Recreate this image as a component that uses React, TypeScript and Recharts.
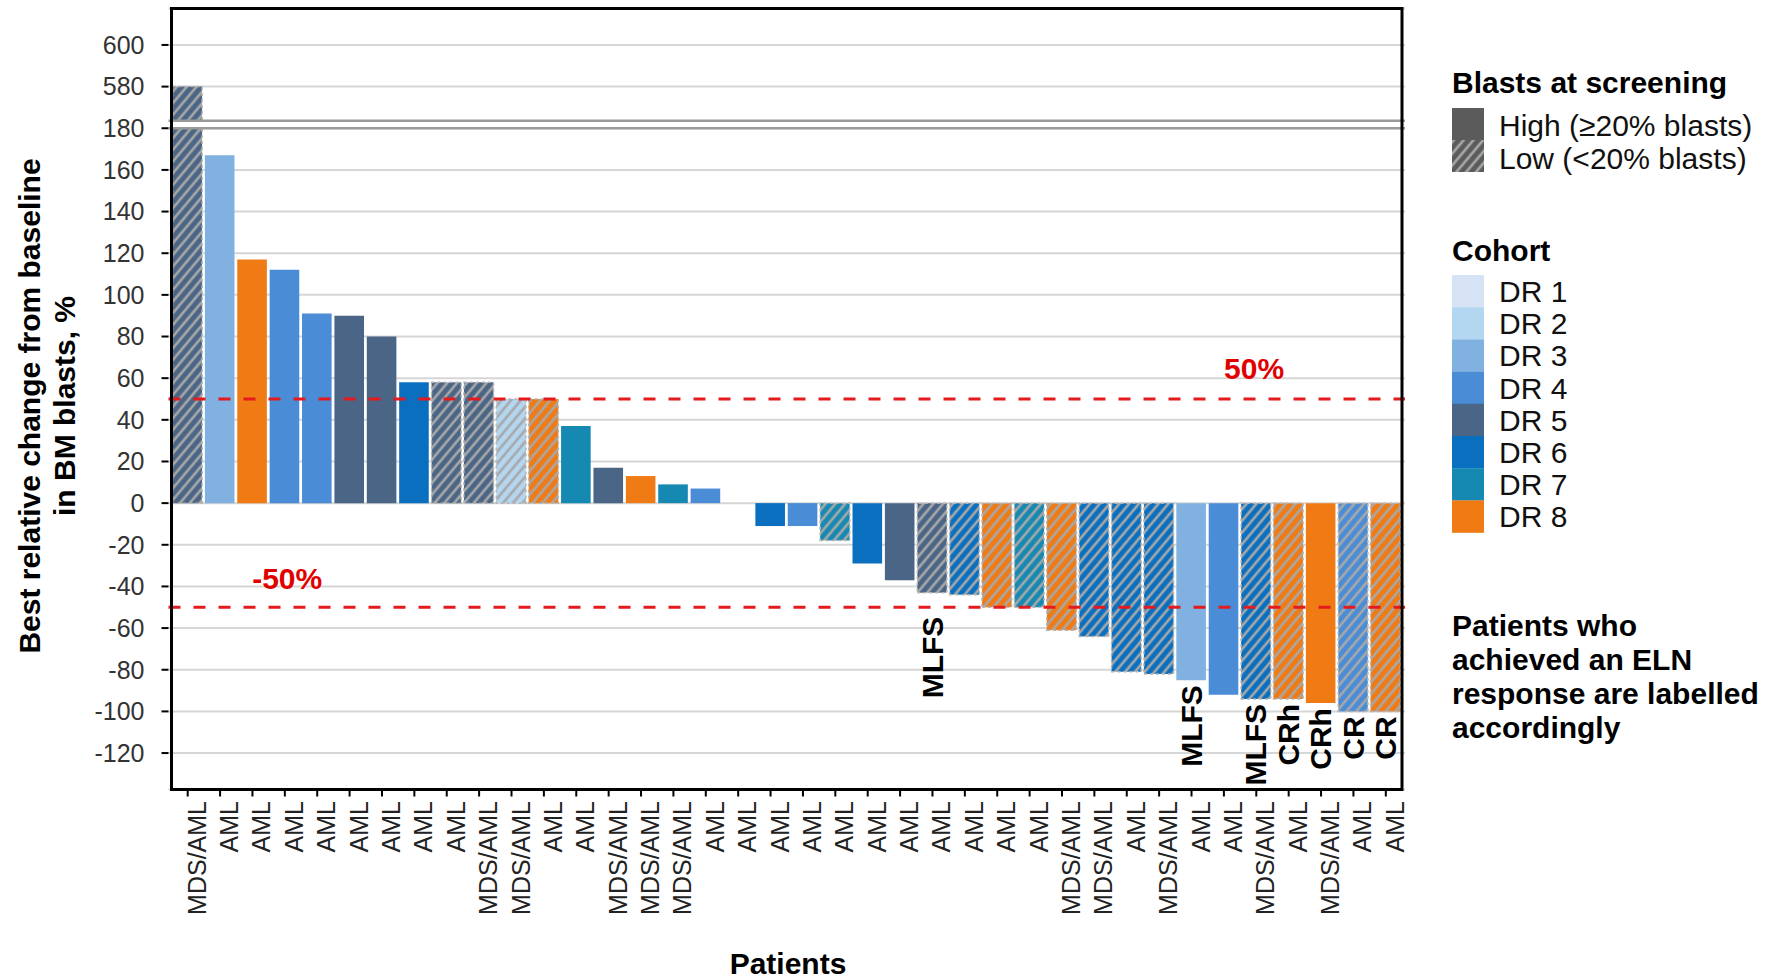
import React from 'react';
import { BarChart, Bar, XAxis, YAxis, CartesianGrid, ReferenceLine, ReferenceArea, Cell, LabelList } from 'recharts';

// one entry per patient, sorted by best change
const diagnosis = [
  'MDS/AML', 'AML', 'AML', 'AML', 'AML', 'AML', 'AML', 'AML', 'AML', 'MDS/AML',
  'MDS/AML', 'AML', 'AML', 'MDS/AML', 'MDS/AML', 'MDS/AML', 'AML', 'AML', 'AML', 'AML',
  'AML', 'AML', 'AML', 'AML', 'AML', 'AML', 'AML', 'MDS/AML', 'MDS/AML', 'AML',
  'MDS/AML', 'AML', 'AML', 'MDS/AML', 'AML', 'MDS/AML', 'AML', 'AML',
];
const bestChange = [
  580, 167, 117, 112, 91, 90, 80, 58, 58, 58,
  50, 50, 37, 17, 13, 9, 7, 0, -11, -11,
  -18, -29, -37, -43, -44, -50, -50, -61, -64, -81,
  -82, -85, -92, -94, -94, -96, -100, -100,
];
const cohort = [
  5, 3, 8, 4, 4, 5, 5, 6, 5, 5,
  2, 8, 7, 5, 8, 7, 4, 6, 6, 4,
  7, 6, 5, 5, 6, 8, 7, 8, 6, 6,
  6, 3, 4, 6, 8, 8, 4, 8,
];
const blasts = [
  'Low', 'High', 'High', 'High', 'High', 'High', 'High', 'High', 'Low', 'Low',
  'Low', 'Low', 'High', 'High', 'High', 'High', 'High', 'High', 'High', 'High',
  'Low', 'High', 'High', 'Low', 'Low', 'Low', 'Low', 'Low', 'Low', 'Low',
  'Low', 'High', 'High', 'Low', 'Low', 'High', 'Low', 'Low',
];
const response = [
  '', '', '', '', '', '', '', '', '', '',
  '', '', '', '', '', '', '', '', '', '',
  '', '', '', 'MLFS', '', '', '', '', '', '',
  '', 'MLFS', '', 'MLFS', 'CRh', 'CRh', 'CR', 'CR',
];

const cohortNames = ['DR 1', 'DR 2', 'DR 3', 'DR 4', 'DR 5', 'DR 6', 'DR 7', 'DR 8'];
const cohortColors = ['#d5e3f4', '#b3d6f1', '#80b1e0', '#4a8cd6', '#4a6585', '#0a6fbf', '#1589b2', '#f07a14'];

const yTicks = [-120, -100, -80, -60, -40, -20, 0, 20, 40, 60, 80, 100, 120, 140, 160, 180, 200, 220];

const W = 1775;
const H = 979;
const FONT = '"Liberation Sans", Arial, sans-serif';
const STRIPE = '#a8a8a8';

// broken axis: 580/600 sit one step above 180
const toAxis = (v: number) => (v > 190 ? v - 380 : v);
const fromAxis = (v: number) => (v > 190 ? String(v + 380) : String(v));

const data = diagnosis.map((d, i) => ({
  id: i,
  diagnosis: d,
  shown: toAxis(bestChange[i]),
  cohort: cohort[i],
  blasts: blasts[i],
  response: response[i],
}));

// first response label sits further below its bar
const labelGap = (i: number) => (i === 23 ? 24 : 5);

const Hatch = ({ id, color }: { id: string; color: string }) => (
  <pattern id={id} patternUnits="userSpaceOnUse" width={7.5} height={7.5} patternTransform="rotate(40)">
    <rect width={7.5} height={7.5} fill={color} />
    <line x1={3.75} y1={0} x2={3.75} y2={7.5} stroke={STRIPE} strokeWidth={2.6} />
  </pattern>
);

const XTick = (p: any) => {
  const { x, y, payload } = p;
  return (
    <text
      transform={`translate(${x + 18},${y + 4.5}) rotate(-90)`}
      textAnchor="end"
      fontSize={25}
      fontFamily={FONT}
      fill="#222"
    >
      {diagnosis[payload.value]}
    </text>
  );
};

const renderResponse = (p: any) => {
  const { x, y, width, height, value } = p;
  if (!value) return null;
  const [idx, text] = String(value).split('|');
  const bottom = Math.max(Number(y), Number(y) + Number(height));
  return (
    <text
      transform={`translate(${Number(x) + Number(width) / 2},${bottom + labelGap(Number(idx))}) rotate(-90)`}
      textAnchor="end"
      dominantBaseline="central"
      fontSize={30}
      fontWeight="bold"
      fontFamily={FONT}
      fill="#000"
    >
      {text}
    </text>
  );
};

const thresholdLabel = (text: string, frac: number, lift: number) => (p: any) => {
  const vb = p.viewBox || {};
  return (
    <text
      x={vb.x + vb.width * frac}
      y={vb.y - lift}
      textAnchor="middle"
      fontSize={30}
      fontWeight="bold"
      fontFamily={FONT}
      fill="#e00000"
    >
      {text}
    </text>
  );
};

const yTitle = () => (
  <text transform="rotate(-90)" textAnchor="middle" fontSize={30} fontWeight="bold" fontFamily={FONT} fill="#000">
    <tspan x={-406} y={40}>Best relative change from baseline</tspan>
    <tspan x={-406} y={75}>in BM blasts, %</tspan>
  </text>
);

const xTitle = () => (
  <text x={788} y={974} textAnchor="middle" fontSize={30} fontWeight="bold" fontFamily={FONT} fill="#000">
    Patients
  </text>
);

const LegendPanel = () => {
  const lx = 1452;
  const tx = 1499;
  const legendText = { fontSize: 30, fontFamily: FONT, fill: '#111' };
  const boldText = { ...legendText, fontWeight: 'bold' as const, fill: '#000' };
  return (
    <svg width={W} height={H} style={{ position: 'absolute', left: 0, top: 0, pointerEvents: 'none' }}>
      <defs>
        <Hatch id="legend-low" color="#5b5b5b" />
      </defs>
      <text x={lx} y={93} {...boldText}>Blasts at screening</text>
      <rect x={lx} y={108} width={32} height={32} fill="#5b5b5b" />
      <rect x={lx} y={140} width={32} height={32} fill="url(#legend-low)" />
      <text x={tx} y={136} {...legendText}>High (≥20% blasts)</text>
      <text x={tx} y={169} {...legendText}>Low (&lt;20% blasts)</text>

      <text x={lx} y={261} {...boldText}>Cohort</text>
      {cohortNames.map((name, i) => (
        <g key={name}>
          <rect x={lx} y={275 + i * 32.2} width={32} height={32.4} fill={cohortColors[i]} />
          <text x={tx} y={275 + i * 32.2 + 27} {...legendText}>{name}</text>
        </g>
      ))}

      <text {...boldText}>
        <tspan x={lx} y={636}>Patients who</tspan>
        <tspan x={lx} y={670}>achieved an ELN</tspan>
        <tspan x={lx} y={704}>response are labelled</tspan>
        <tspan x={lx} y={738}>accordingly</tspan>
      </text>
    </svg>
  );
};

export default function App() {
  return (
    <div style={{ position: 'absolute', left: 0, top: 0, width: W, height: H, background: '#fff' }}>
      <BarChart width={W} height={H} data={data} margin={{ top: 8.5, right: 370, bottom: 0, left: 0 }} barSize={29.6}>
        <defs>
          {cohortColors.map((c, i) => (
            <Hatch key={c} id={`hatch-${i + 1}`} color={c} />
          ))}
        </defs>
        <CartesianGrid vertical={false} stroke="#d6d6d6" strokeWidth={2} />
        <XAxis
          dataKey="id"
          type="category"
          interval={0}
          height={189.5}
          padding={{ left: 3, right: 3 }}
          axisLine={false}
          tickLine={{ stroke: '#000', strokeWidth: 2 }}
          tickSize={7}
          tickMargin={0}
          tick={<XTick />}
          label={xTitle}
        />
        <YAxis
          type="number"
          domain={[-137.5, 237.5]}
          ticks={yTicks}
          interval={0}
          width={168.5}
          axisLine={false}
          tickLine={{ stroke: '#000', strokeWidth: 2 }}
          tickSize={7}
          tickMargin={17}
          tickFormatter={fromAxis}
          tick={{ fontSize: 25, fill: '#333', fontFamily: FONT }}
          label={yTitle}
        />
        <Bar dataKey="shown" isAnimationActive={false}>
          {data.map((d) => (
            <Cell
              key={d.id}
              fill={d.blasts === 'Low' ? `url(#hatch-${d.cohort})` : cohortColors[d.cohort - 1]}
              stroke={d.blasts === 'Low' ? '#b5b5b5' : 'none'}
              strokeWidth={d.blasts === 'Low' ? 1.5 : 0}
              strokeDasharray={d.blasts === 'Low' ? '3 3' : undefined}
            />
          ))}
          <LabelList
            dataKey={(d: any) => (d.response ? `${d.id}|${d.response}` : '')}
            content={renderResponse}
          />
        </Bar>
        <ReferenceArea y1={180} y2={183.6} fill="#fff" fillOpacity={1} stroke="none" zIndex={1100} />
        <ReferenceLine y={180} stroke="#9a9a9a" strokeWidth={2.5} zIndex={1200} />
        <ReferenceLine y={183.6} stroke="#9a9a9a" strokeWidth={2.5} zIndex={1200} />
        <ReferenceLine y={50} stroke="#e41a1c" strokeWidth={3} strokeDasharray="12 13" zIndex={1200} label={thresholdLabel('50%', 0.878, 20)} />
        <ReferenceLine y={-50} stroke="#e41a1c" strokeWidth={3} strokeDasharray="12 13" zIndex={1200} label={thresholdLabel('-50%', 0.096, 18)} />
        <ReferenceArea y1={-137.5} y2={237.5} fill="none" stroke="#000" strokeWidth={3} zIndex={1300} />
      </BarChart>
      <LegendPanel />
    </div>
  );
}
